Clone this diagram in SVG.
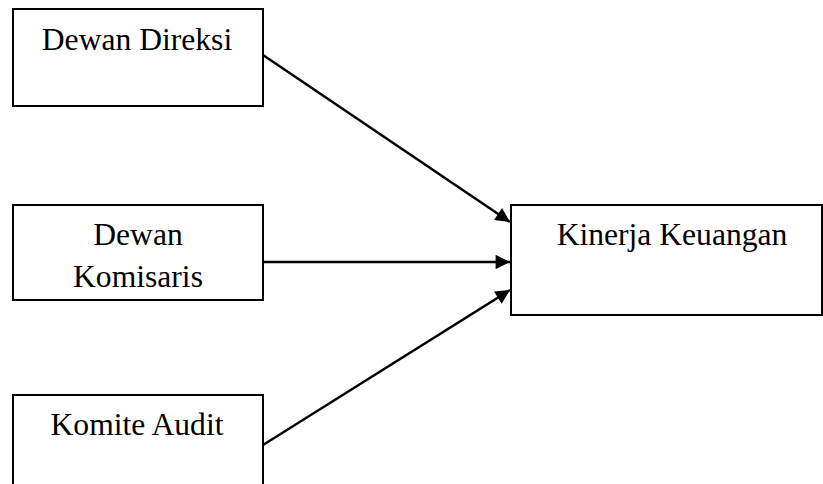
<svg xmlns="http://www.w3.org/2000/svg" width="823" height="484" viewBox="0 0 823 484">
<style>
.box{fill:#fff;stroke:#000;stroke-width:2}
.lbl{font-family:"Liberation Serif","Times New Roman",serif;font-size:31.6px;fill:#000;text-anchor:middle}
.conn{stroke:#000;stroke-width:2.4;fill:none;marker-end:url(#arr)}
</style>
<defs>
<marker id="arr" viewBox="0 0 10 10" refX="10" refY="5" markerWidth="6.5" markerHeight="6" markerUnits="strokeWidth" orient="auto">
<path d="M0,0 L10,5 L0,10 z" fill="#000"/>
</marker>
</defs>
<rect width="823" height="484" fill="#fff"/>
<g id="dewan-direksi">
<rect class="box" x="13" y="9" width="250" height="97"/>
<text class="lbl" x="137" y="50">Dewan Direksi</text>
</g>
<g id="dewan-komisaris">
<rect class="box" x="13" y="205" width="250" height="95"/>
<text class="lbl" x="138" y="245">Dewan</text>
<text class="lbl" x="138" y="287">Komisaris</text>
</g>
<g id="komite-audit">
<rect class="box" x="13" y="395" width="250" height="100"/>
<text class="lbl" x="137" y="435">Komite Audit</text>
</g>
<g id="kinerja-keuangan">
<rect class="box" x="511" y="205" width="311" height="110"/>
<text class="lbl" x="672" y="245">Kinerja Keuangan</text>
</g>
<g id="connectors">
<line class="conn" x1="263" y1="55" x2="510" y2="222"/>
<line class="conn" x1="263" y1="262" x2="510" y2="262"/>
<line class="conn" x1="263" y1="445" x2="510" y2="290"/>
</g>
</svg>
